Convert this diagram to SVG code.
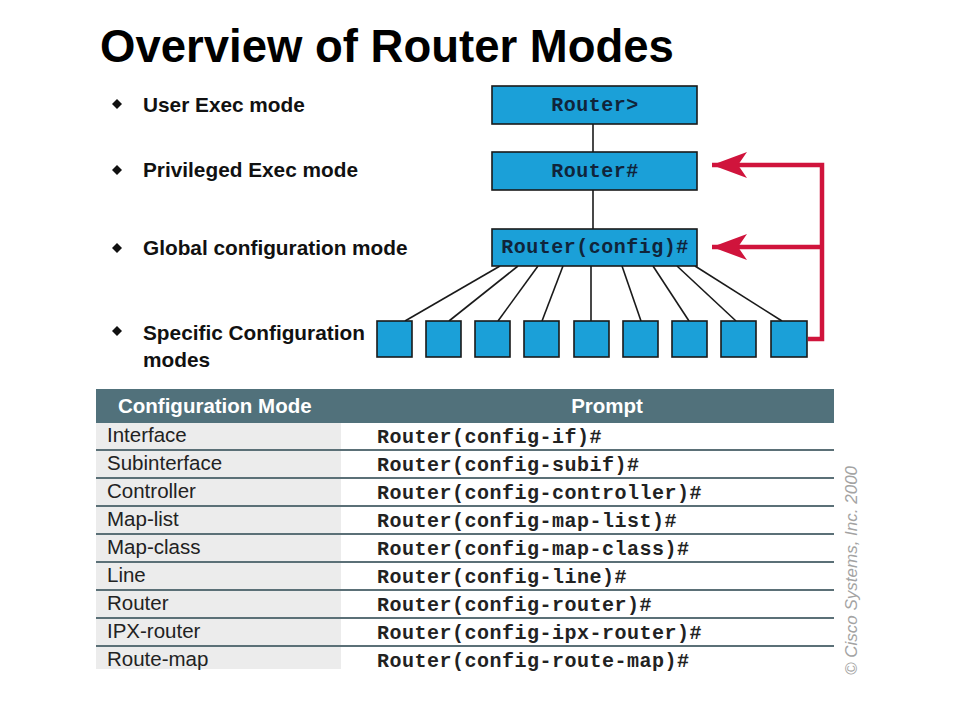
<svg xmlns="http://www.w3.org/2000/svg" width="960" height="720" viewBox="0 0 960 720">
<defs>
<style>
.title{font-family:"Liberation Sans",Arial,sans-serif;font-weight:bold;font-size:45.5px;fill:#000}
.bul{font-family:"Liberation Sans",Arial,sans-serif;font-weight:bold;font-size:20.8px;fill:#111}
.node{fill:#1ba0d8;stroke:#1a1a1a;stroke-width:1.6}
.mono{font-family:"Liberation Mono","Courier New",monospace;font-weight:bold;font-size:20px;letter-spacing:0.5px;fill:#10243a}
.hdr{font-family:"Liberation Sans",Arial,sans-serif;font-weight:bold;font-size:20.5px;fill:#fff}
.cell{font-family:"Liberation Sans",Arial,sans-serif;font-size:20.5px;fill:#222}
.pr{font-family:"Liberation Mono","Courier New",monospace;font-weight:bold;font-size:20px;letter-spacing:0.5px;fill:#222}
.ln{stroke:#1a1a1a;stroke-width:1.6;fill:none}
.red{stroke:#d0143c;stroke-width:4.5;fill:none}
.div{stroke:#5b7077;stroke-width:1.8}
</style>
<marker id="ah" viewBox="0 0 40 28" refX="38" refY="14" markerWidth="40" markerHeight="28" markerUnits="userSpaceOnUse" orient="auto">
<path d="M38,14 L3,1 L12,14 L3,27 Z" fill="#d0143c"/>
</marker>
</defs>
<rect width="960" height="720" fill="#fff"/>
<text class="title" x="100" y="62">Overview of Router Modes</text>

<g id="bullets">
<path d="M117,99 L122,104 L117,109 L112,104 Z" fill="#111"/>
<text class="bul" x="143" y="112">User Exec mode</text>
<path d="M117,165 L122,170 L117,175 L112,170 Z" fill="#111"/>
<text class="bul" x="143" y="177">Privileged Exec mode</text>
<path d="M117,243 L122,248 L117,253 L112,248 Z" fill="#111"/>
<text class="bul" x="143" y="255">Global configuration mode</text>
<path d="M117,326 L122,331 L117,336 L112,331 Z" fill="#111"/>
<text class="bul" x="143" y="340">Specific Configuration</text>
<text class="bul" x="143" y="367">modes</text>
</g>

<g id="connectors">
<line class="ln" x1="593" y1="124" x2="593" y2="152"/>
<line class="ln" x1="593" y1="190" x2="593" y2="229"/>
<line class="ln" x1="500" y1="266" x2="405" y2="321"/>
<line class="ln" x1="518" y1="266" x2="449" y2="321"/>
<line class="ln" x1="538" y1="266" x2="498" y2="321"/>
<line class="ln" x1="563" y1="266" x2="542" y2="321"/>
<line class="ln" x1="591" y1="266" x2="591" y2="321"/>
<line class="ln" x1="622" y1="266" x2="641" y2="321"/>
<line class="ln" x1="653" y1="266" x2="689" y2="321"/>
<line class="ln" x1="677" y1="266" x2="736" y2="321"/>
<line class="ln" x1="695" y1="266" x2="782" y2="321"/>
<path class="red" d="M808,339 H822 V165 H712" marker-end="url(#ah)"/>
<path class="red" d="M822,247 H712" marker-end="url(#ah)"/>
</g>

<g id="user-exec">
<rect class="node" x="492" y="86" width="205" height="38"/>
<text class="mono" x="595" y="111" text-anchor="middle">Router&gt;</text>
</g>
<g id="privileged-exec">
<rect class="node" x="492" y="152" width="205" height="38"/>
<text class="mono" x="595" y="177" text-anchor="middle">Router#</text>
</g>
<g id="global-config">
<rect class="node" x="492" y="229" width="205" height="37"/>
<text class="mono" x="595" y="253" text-anchor="middle">Router(config)#</text>
</g>
<g id="specific-modes">
<rect class="node" x="377" y="321" width="35" height="36"/>
<rect class="node" x="426" y="321" width="35" height="36"/>
<rect class="node" x="475" y="321" width="35" height="36"/>
<rect class="node" x="524" y="321" width="35" height="36"/>
<rect class="node" x="574" y="321" width="35" height="36"/>
<rect class="node" x="623" y="321" width="35" height="36"/>
<rect class="node" x="672" y="321" width="35" height="36"/>
<rect class="node" x="721" y="321" width="35" height="36"/>
<rect class="node" x="771" y="321" width="36" height="36"/>
</g>

<g id="table">
<rect x="96" y="389" width="738" height="34" fill="#51717b"/>
<text class="hdr" x="118" y="413">Configuration Mode</text>
<text class="hdr" x="607" y="413" text-anchor="middle">Prompt</text>
<rect x="96" y="423" width="245" height="246" fill="#ececec"/>
<line class="div" x1="96" y1="450" x2="834" y2="450"/>
<line class="div" x1="96" y1="478" x2="834" y2="478"/>
<line class="div" x1="96" y1="506" x2="834" y2="506"/>
<line class="div" x1="96" y1="534" x2="834" y2="534"/>
<line class="div" x1="96" y1="562" x2="834" y2="562"/>
<line class="div" x1="96" y1="590" x2="834" y2="590"/>
<line class="div" x1="96" y1="618" x2="834" y2="618"/>
<line class="div" x1="96" y1="646" x2="834" y2="646"/>
<text class="cell" x="107" y="442">Interface</text>
<text class="cell" x="107" y="470">Subinterface</text>
<text class="cell" x="107" y="498">Controller</text>
<text class="cell" x="107" y="526">Map-list</text>
<text class="cell" x="107" y="554">Map-class</text>
<text class="cell" x="107" y="582">Line</text>
<text class="cell" x="107" y="610">Router</text>
<text class="cell" x="107" y="638">IPX-router</text>
<text class="cell" x="107" y="666">Route-map</text>
<text class="pr" x="377" y="443">Router(config-if)#</text>
<text class="pr" x="377" y="471">Router(config-subif)#</text>
<text class="pr" x="377" y="499">Router(config-controller)#</text>
<text class="pr" x="377" y="527">Router(config-map-list)#</text>
<text class="pr" x="377" y="555">Router(config-map-class)#</text>
<text class="pr" x="377" y="583">Router(config-line)#</text>
<text class="pr" x="377" y="611">Router(config-router)#</text>
<text class="pr" x="377" y="639">Router(config-ipx-router)#</text>
<text class="pr" x="377" y="667">Router(config-route-map)#</text>
</g>

<text x="0" y="0" transform="translate(857,675) rotate(-90)" font-family="'Liberation Sans',Arial,sans-serif" font-style="italic" font-size="17px" fill="#a3a3a3">© Cisco Systems, Inc. 2000</text>
</svg>
